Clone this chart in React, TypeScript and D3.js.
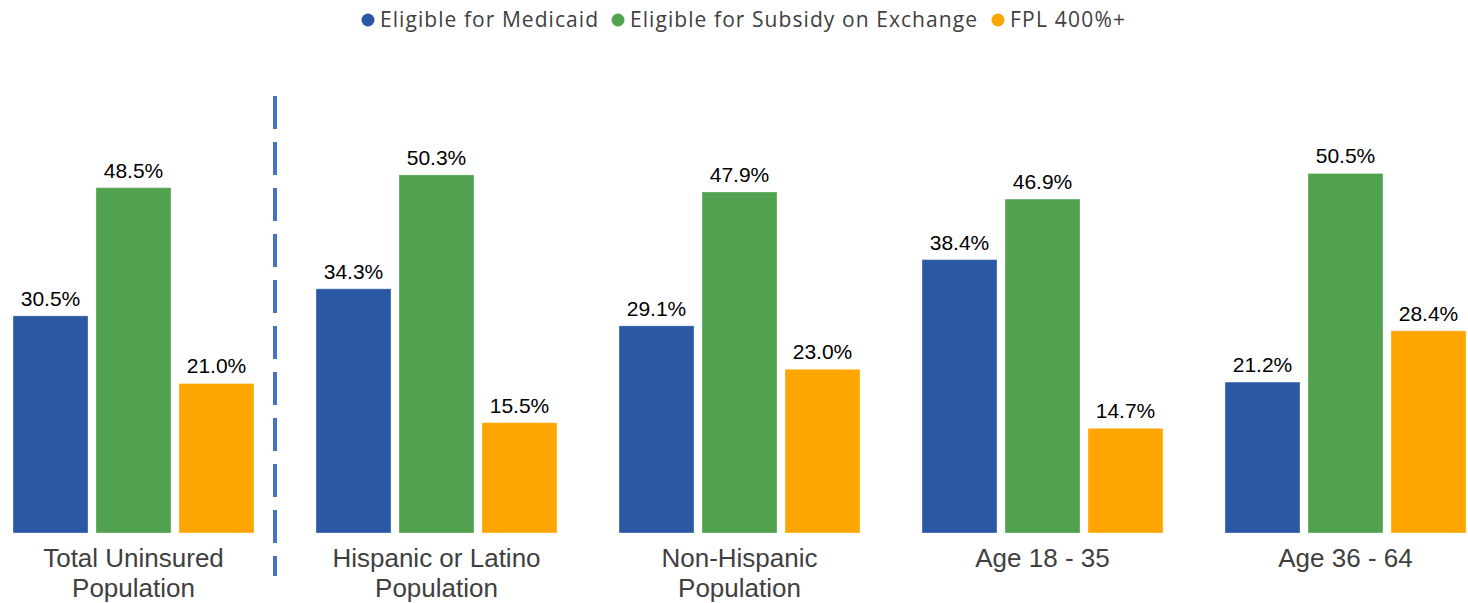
import React from "react";
import * as d3 from "d3";

const categories: string[][] = [
  ["Total Uninsured", "Population"],
  ["Hispanic or Latino", "Population"],
  ["Non-Hispanic", "Population"],
  ["Age 18 - 35"],
  ["Age 36 - 64"],
];
const seriesNames = ["Eligible for Medicaid", "Eligible for Subsidy on Exchange", "FPL 400%+"];
const medicaid = [30.5, 34.3, 29.1, 38.4, 21.2];
const subsidy = [48.5, 50.3, 47.9, 46.9, 50.5];
const fpl400 = [21.0, 15.5, 23.0, 14.7, 28.4];
const seriesValues = [medicaid, subsidy, fpl400];
const colors = ["#2B58A5", "#50A24F", "#FFA500"];

const W = 1468;
const H = 603;

// legend layout (marker x, text length)
const legendX = [368, 618, 998];
const legendLen = [218, 347, 115];

export default function App() {
  const x0 = d3
    .scaleBand<number>()
    .domain(categories.map((_, i) => i))
    .range([13, 1466])
    .paddingInner(0.2046)
    .paddingOuter(0);
  const x1 = d3
    .scaleBand<number>()
    .domain([0, 1, 2])
    .range([0, x0.bandwidth()])
    .paddingInner(0.096)
    .paddingOuter(0);
  const y = d3.scaleLinear().domain([0, 60]).range([533, 533 - 427.2]);

  const dashX = x0(0)! + x0.bandwidth() + 21;

  return (
    <svg width={W} height={H} style={{ display: "block", position: "absolute", left: 0, top: 0 }}>
      <rect x={0} y={0} width={W} height={H} fill="#ffffff" />
      {/* legend */}
      <g>
        {seriesNames.map((name, i) => (
          <g key={name}>
            <circle cx={legendX[i]} cy={20} r={6.5} fill={colors[i]} />
            <text
              x={legendX[i] + 12}
              y={27}
              fontFamily="'Open Sans', 'Noto Sans', sans-serif"
              fontSize={21}
              fill="#404040"
              textLength={legendLen[i]}
              lengthAdjust="spacing"
            >
              {name}
            </text>
          </g>
        ))}
      </g>
      {/* divider */}
      <line
        x1={dashX}
        x2={dashX}
        y1={96}
        y2={576}
        stroke="#4472C4"
        strokeWidth={4}
        strokeDasharray="33 13"
      />
      {/* bars */}
      {categories.map((cat, ci) => (
        <g key={ci} transform={`translate(${x0(ci)},0)`}>
          {seriesValues.map((vals, si) => {
            const v = vals[ci];
            const bx = x1(si)!;
            const bw = x1.bandwidth();
            return (
              <g key={si}>
                <rect
                  x={bx}
                  y={y(v)}
                  width={bw}
                  height={y(0) - y(v)}
                  fill={colors[si]}
                  stroke="rgba(255,255,255,0.35)"
                  strokeWidth={1}
                />
                <text
                  x={bx + bw / 2}
                  y={y(v) - 10}
                  textAnchor="middle"
                  fontFamily="'Liberation Sans', Arial, sans-serif"
                  fontSize={21}
                  fill="#000000"
                >
                  {v.toFixed(1)}%
                </text>
              </g>
            );
          })}
          {cat.map((line, li) => (
            <text
              key={li}
              x={x0.bandwidth() / 2}
              y={567 + li * 30}
              textAnchor="middle"
              fontFamily="'Liberation Sans', Arial, sans-serif"
              fontSize={26}
              fill="#404040"
            >
              {line}
            </text>
          ))}
        </g>
      ))}
    </svg>
  );
}
